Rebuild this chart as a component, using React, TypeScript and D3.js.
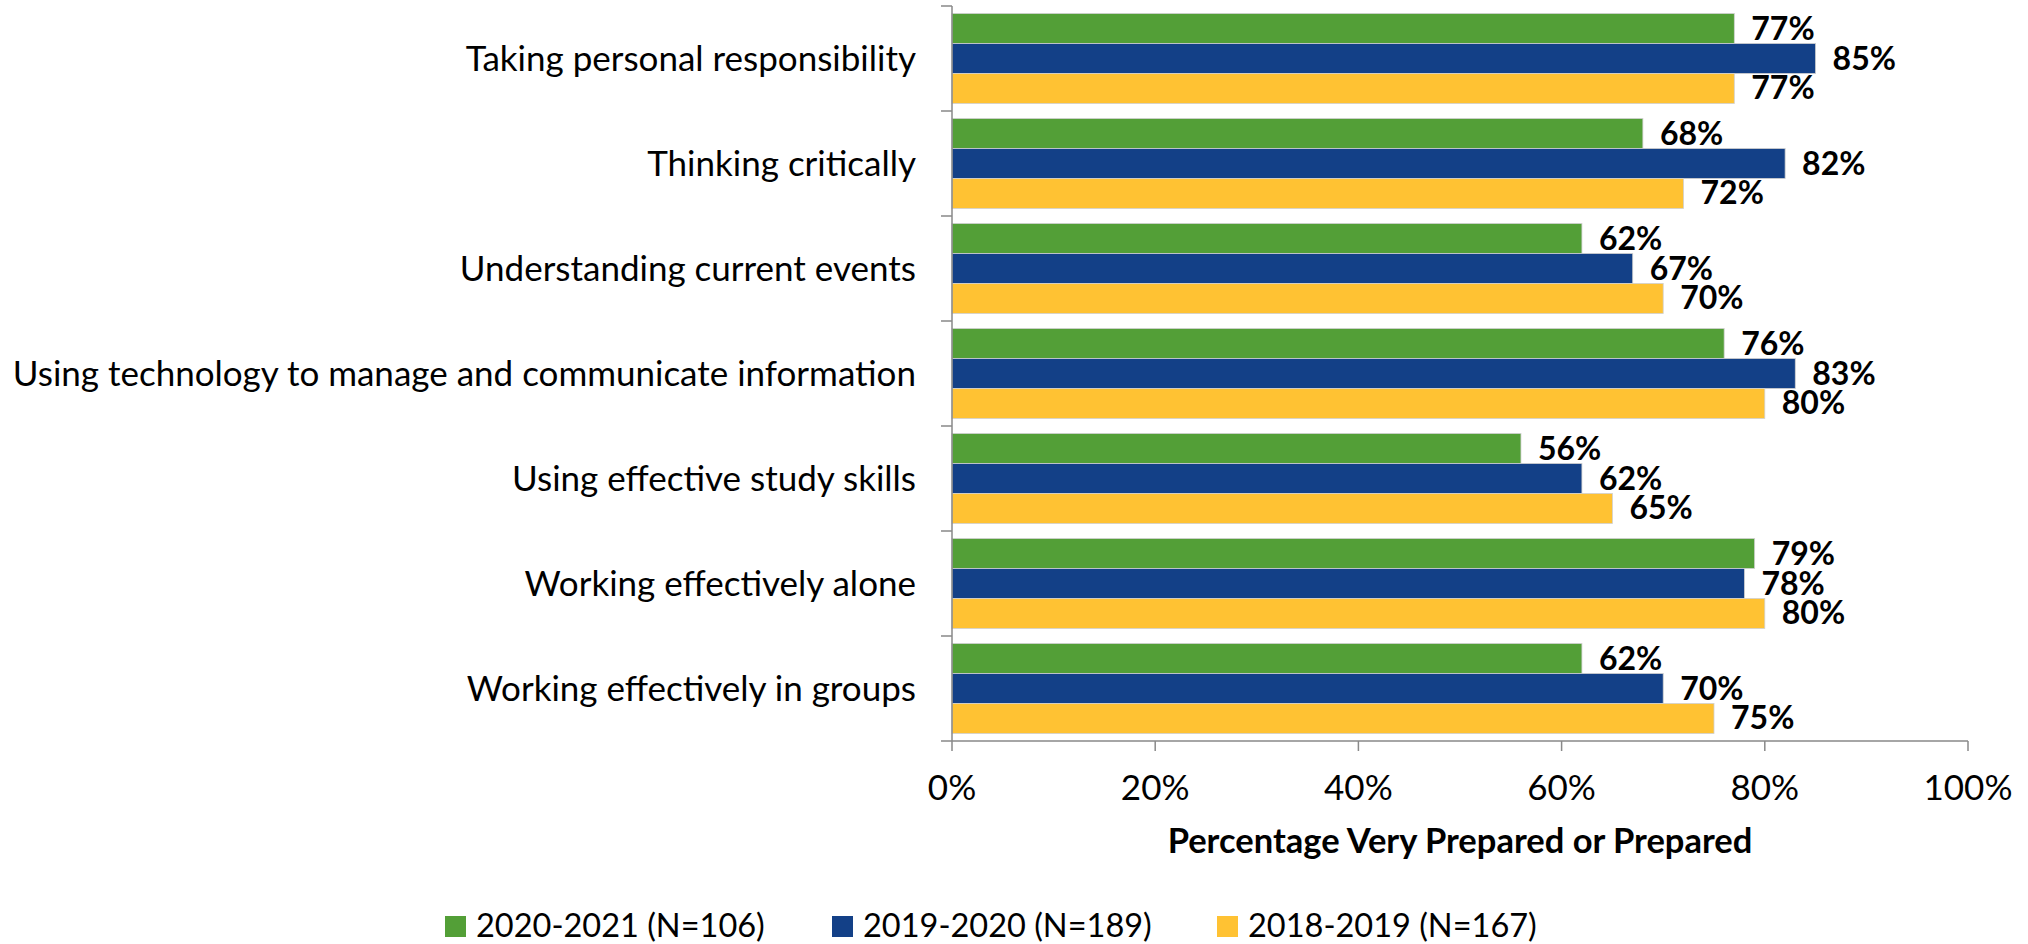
import React from "react";
import * as d3 from "d3";

const categories = [
  "Taking personal responsibility",
  "Thinking critically",
  "Understanding current events",
  "Using technology to manage and communicate information",
  "Using effective study skills",
  "Working effectively alone",
  "Working effectively in groups",
];
const seriesNames = ["2020-2021 (N=106)", "2019-2020 (N=189)", "2018-2019 (N=167)"];
const seriesColors = ["#539F37", "#134087", "#FFC233"];
const values2021 = [77, 68, 62, 76, 56, 79, 62];
const values2020 = [85, 82, 67, 83, 62, 78, 70];
const values2019 = [77, 72, 70, 80, 65, 80, 75];
const xTicks = [0, 20, 40, 60, 80, 100];

const FONT = "Lato, 'Open Sans', sans-serif";
const W = 2028;
const H = 944;
const X0 = 952;
const X1 = 1968;
const Y0 = 6;
const Y1 = 741;
const AXIS = "#898989";

export default function App() {
  const series = [values2021, values2020, values2019];
  const x = d3.scaleLinear().domain([0, 100]).range([X0, X1]);
  const y = d3
    .scaleBand<string>()
    .domain(categories)
    .range([Y0, Y1])
    .paddingInner(0.143)
    .paddingOuter(0.0715);
  const ys = d3
    .scaleBand<number>()
    .domain([0, 1, 2])
    .range([0, y.bandwidth()]);
  const step = y.step();
  const boundaries = d3.range(categories.length + 1).map((i) => Y0 + i * step);

  const legendX = [445, 832, 1217];

  return (
    <svg
      width={W}
      height={H}
      style={{ position: "absolute", left: 0, top: 0, display: "block", background: "#fff" }}
      fontFamily={FONT}
    >
      {/* bars */}
      {categories.map((c, ci) => (
        <g key={c}>
          {series.map((vals, si) => {
            const by = (y(c) as number) + (ys(si) as number);
            const bh = ys.bandwidth();
            const v = vals[ci];
            return (
              <g key={si}>
                <rect
                  x={x(0)}
                  y={by}
                  width={x(v) - x(0)}
                  height={bh}
                  fill={seriesColors[si]}
                  stroke="#d0d0d0"
                  strokeWidth={0.8}
                />
                <text
                  x={x(v) + 17}
                  y={by + bh / 2 + 11}
                  fontSize={32}
                  fontWeight="bold"
                  fill="#000"
                >
                  {v}%
                </text>
              </g>
            );
          })}
        </g>
      ))}

      {/* y axis */}
      <line x1={X0} x2={X0} y1={Y0} y2={Y1} stroke={AXIS} strokeWidth={1.5} />
      {boundaries.map((b, i) => (
        <line key={i} x1={X0 - 11} x2={X0} y1={b} y2={b} stroke={AXIS} strokeWidth={1.5} />
      ))}
      {categories.map((c) => (
        <text
          key={c}
          x={916}
          y={(y(c) as number) + y.bandwidth() / 2 + 12}
          textAnchor="end"
          fontSize={35}
          fill="#000"
        >
          {c}
        </text>
      ))}

      {/* x axis */}
      <line x1={X0} x2={X1} y1={Y1} y2={Y1} stroke={AXIS} strokeWidth={1.5} />
      {xTicks.map((t) => (
        <g key={t}>
          <line x1={x(t)} x2={x(t)} y1={Y1} y2={Y1 + 10} stroke={AXIS} strokeWidth={1.5} />
          <text x={x(t)} y={800} textAnchor="middle" fontSize={35} fill="#000">
            {t}%
          </text>
        </g>
      ))}
      <text
        x={(X0 + X1) / 2}
        y={853}
        textAnchor="middle"
        fontSize={34.5}
        fontWeight="bold"
        fill="#000"
      >
        Percentage Very Prepared or Prepared
      </text>

      {/* legend */}
      {seriesNames.map((n, i) => (
        <g key={n}>
          <rect x={legendX[i]} y={916} width={21} height={21} fill={seriesColors[i]} />
          <text x={legendX[i] + 31} y={937} fontSize={32.5} fill="#000">
            {n}
          </text>
        </g>
      ))}
    </svg>
  );
}
